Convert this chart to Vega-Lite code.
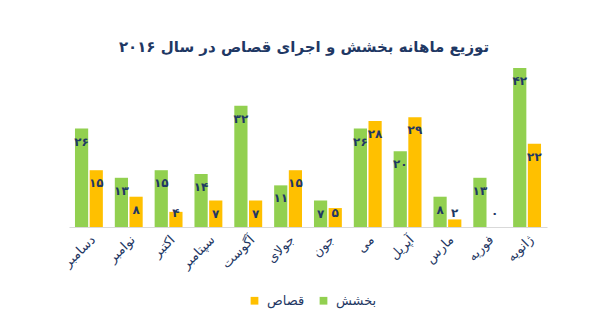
{
  "$schema": "https://vega.github.io/schema/vega-lite/v6.json",
  "autosize": {"type": "none"},
  "width": 478,
  "height": 159,
  "padding": {"left": 69, "top": 68, "right": 57, "bottom": 101},
  "background": "#ffffff",
  "title": {
    "text": "توزیع ماهانه بخشش و اجرای قصاص در سال ۲۰۱۶",
    "font": "DejaVu Sans",
    "fontSize": 15,
    "fontWeight": "bold",
    "color": "#1F3864",
    "anchor": "middle",
    "offset": 13,
    "dx": -4
  },
  "config": {
    "view": {"stroke": null},
    "font": "DejaVu Sans"
  },
  "data": {
    "values": [
      {"month": "دسامبر", "type": "بخشش", "value": 26, "label": "۲۶"},
      {"month": "دسامبر", "type": "قصاص", "value": 15, "label": "۱۵"},
      {"month": "نوامبر", "type": "بخشش", "value": 13, "label": "۱۳"},
      {"month": "نوامبر", "type": "قصاص", "value": 8, "label": "۸"},
      {"month": "اکتبر", "type": "بخشش", "value": 15, "label": "۱۵"},
      {"month": "اکتبر", "type": "قصاص", "value": 4, "label": "۴"},
      {"month": "سپتامبر", "type": "بخشش", "value": 14, "label": "۱۴"},
      {"month": "سپتامبر", "type": "قصاص", "value": 7, "label": "۷"},
      {"month": "آگوست", "type": "بخشش", "value": 32, "label": "۳۲"},
      {"month": "آگوست", "type": "قصاص", "value": 7, "label": "۷"},
      {"month": "جولای", "type": "بخشش", "value": 11, "label": "۱۱"},
      {"month": "جولای", "type": "قصاص", "value": 15, "label": "۱۵"},
      {"month": "جون", "type": "بخشش", "value": 7, "label": "۷"},
      {"month": "جون", "type": "قصاص", "value": 5, "label": "۵"},
      {"month": "می", "type": "بخشش", "value": 26, "label": "۲۶"},
      {"month": "می", "type": "قصاص", "value": 28, "label": "۲۸"},
      {"month": "آپریل", "type": "بخشش", "value": 20, "label": "۲۰"},
      {"month": "آپریل", "type": "قصاص", "value": 29, "label": "۲۹"},
      {"month": "مارس", "type": "بخشش", "value": 8, "label": "۸"},
      {"month": "مارس", "type": "قصاص", "value": 2, "label": "۲"},
      {"month": "فوریه", "type": "بخشش", "value": 13, "label": "۱۳"},
      {"month": "فوریه", "type": "قصاص", "value": 0, "label": "۰"},
      {"month": "ژانویه", "type": "بخشش", "value": 42, "label": "۴۲"},
      {"month": "ژانویه", "type": "قصاص", "value": 22, "label": "۲۲"}
    ]
  },
  "encoding": {
    "x": {
      "field": "month",
      "type": "nominal",
      "sort": null,
      "scale": {"paddingInner": 0.3, "paddingOuter": 0.15},
      "axis": {
        "title": null,
        "labelAngle": -45,
        "labelFontSize": 13,
        "labelFontWeight": "normal",
        "labelColor": "#1F3864",
        "ticks": false,
        "domainColor": "#D9D9D9",
        "domainWidth": 1,
        "labelPadding": 6,
        "grid": false
      }
    },
    "xOffset": {
      "field": "type",
      "type": "nominal",
      "sort": ["بخشش", "قصاص"],
      "scale": {"paddingInner": 0.1}
    }
  },
  "layer": [
    {
      "mark": {"type": "bar"},
      "encoding": {
        "y": {
          "field": "value",
          "type": "quantitative",
          "scale": {"domain": [0, 42], "nice": false},
          "axis": null
        },
        "color": {
          "field": "type",
          "type": "nominal",
          "scale": {"domain": ["قصاص", "بخشش"], "range": ["#FFC000", "#92D050"]},
          "legend": {
            "title": null,
            "orient": "none",
            "direction": "horizontal",
            "legendX": 179,
            "legendY": 226,
            "symbolType": "square",
            "symbolSize": 60,
            "symbolStrokeWidth": 0,
            "labelFontSize": 13,
            "labelColor": "#1F3864",
            "labelOffset": 6,
            "columnPadding": 12
          }
        }
      }
    },
    {
      "transform": [{"filter": "datum.value >= 7"}],
      "mark": {
        "type": "text",
        "baseline": "middle",
        "align": "center",
        "dy": 13,
        "fontSize": 12,
        "fontWeight": "bold",
        "color": "#1F3864"
      },
      "encoding": {
        "y": {"field": "value", "type": "quantitative"},
        "text": {"field": "label", "type": "nominal"}
      }
    },
    {
      "transform": [{"filter": "datum.value < 7"}],
      "mark": {
        "type": "text",
        "baseline": "middle",
        "align": "center",
        "dy": -14,
        "fontSize": 12,
        "fontWeight": "bold",
        "color": "#1F3864"
      },
      "encoding": {
        "y": {"datum": 0, "type": "quantitative"},
        "text": {"field": "label", "type": "nominal"}
      }
    }
  ]
}
